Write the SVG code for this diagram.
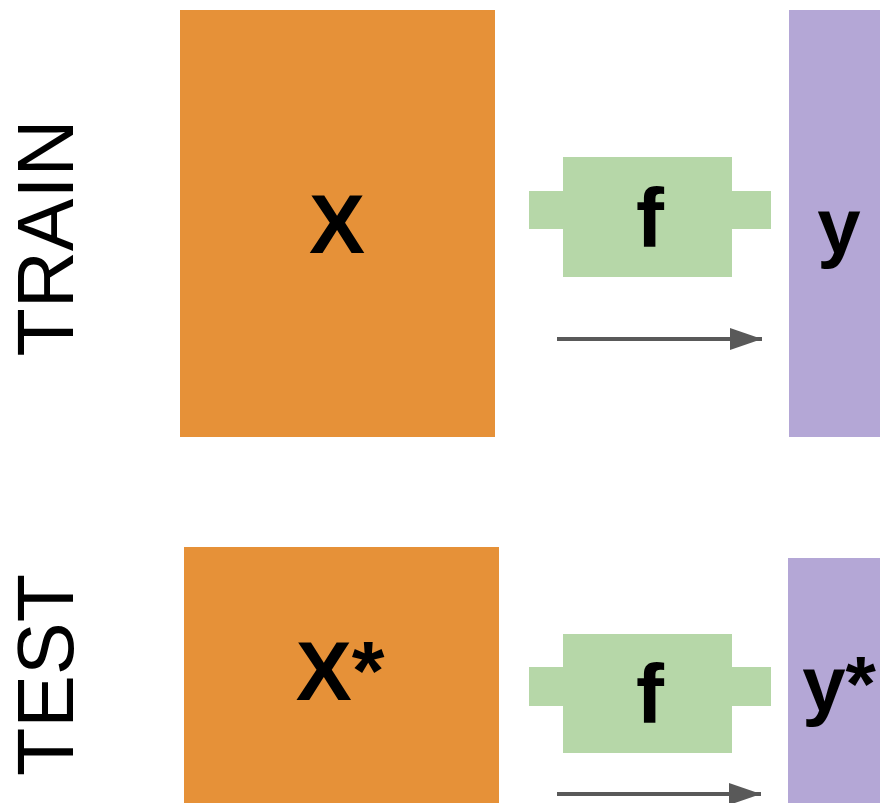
<svg xmlns="http://www.w3.org/2000/svg" width="880" height="803" viewBox="0 0 880 803">
  <defs>
    <style>
      .data { fill: #e69138; }
      .target { fill: #b4a7d6; }
      .model { fill: #b6d7a8; }
      .lbl { font-family: "Liberation Sans", Arial, sans-serif; font-weight: bold; fill: #000; text-anchor: middle; }
      .phase { font-family: "Liberation Sans", Arial, sans-serif; font-size: 79px; fill: #000; text-anchor: middle; }
      .flow { stroke: #595959; stroke-width: 4; fill: none; }
    </style>
    <marker id="arrowhead" viewBox="0 0 32 22" refX="32" refY="11" markerUnits="userSpaceOnUse" markerWidth="32" markerHeight="22" orient="auto">
      <path d="M0,0 L32,11 L0,22 Z" fill="#595959"/>
    </marker>
  </defs>

  <rect width="880" height="803" fill="#ffffff"/>

  <!-- phase labels -->
  <text class="phase" transform="translate(73,238) rotate(-90)">TRAIN</text>
  <text class="phase" transform="translate(73,675) rotate(-90)">TEST</text>

  <!-- training row -->
  <g id="train-X">
    <rect class="data" x="180" y="10" width="315" height="427"/>
    <text class="lbl" x="337" y="253" font-size="84">X</text>
  </g>
  <g id="train-f">
    <path class="model" d="M563,157 H732 V191 H771 V229 H732 V277 H563 V229 H529 V191 H563 Z"/>
    <text class="lbl" x="650" y="247" font-size="84">f</text>
  </g>
  <g id="train-y">
    <rect class="target" x="789" y="10" width="91" height="427"/>
    <text class="lbl" x="839" y="253" font-size="78">y</text>
  </g>

  <!-- test row -->
  <g id="test-X">
    <rect class="data" x="184" y="547" width="315" height="256"/>
    <text class="lbl" x="340" y="700" font-size="84">X*</text>
  </g>
  <g id="test-f">
    <path class="model" d="M563,634 H732 V667 H771 V706 H732 V753 H563 V706 H529 V667 H563 Z"/>
    <text class="lbl" x="650" y="723" font-size="84">f</text>
  </g>
  <g id="test-y">
    <rect class="target" x="788" y="558" width="92" height="245"/>
    <text class="lbl" x="839" y="711" font-size="78">y*</text>
  </g>

  <!-- connectors -->
  <g id="connectors">
    <line class="flow" x1="557" y1="339" x2="762" y2="339" marker-end="url(#arrowhead)"/>
    <line class="flow" x1="557" y1="794" x2="761" y2="794" marker-end="url(#arrowhead)"/>
  </g>
</svg>
